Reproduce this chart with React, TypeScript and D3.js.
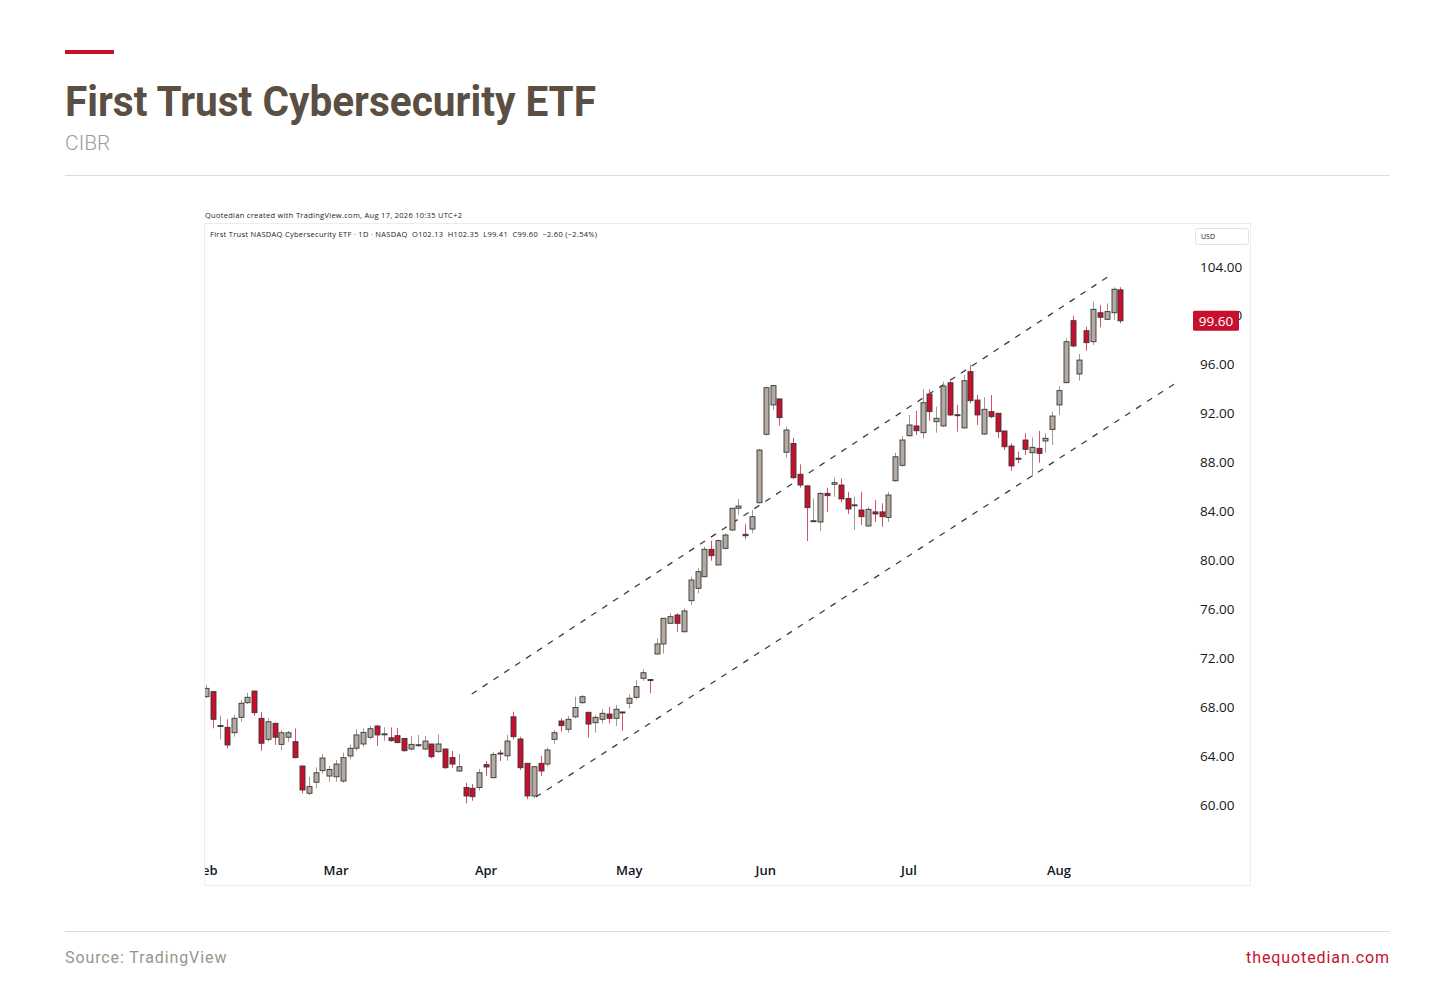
import React, { useEffect, useRef } from 'react';
import * as d3 from 'd3';

// ---- data (CIBR daily, Feb 2 – Aug 14 2026) ----
const firstDay = '2026-02-02';
const lastDay = '2026-08-14';
const marketHolidays = ['2026-02-16', '2026-04-03', '2026-05-25', '2026-06-19', '2026-07-03'];

const opens = [
  68.86, 69.27, 66.42, 66.35, 65.91, 67.17, 68.37, 69.32, 67.09, 65.37, 66.68, 64.96, 65.54, 65.18, 63.19, 60.96, 61.86, 62.81, 62.37, 62.31,
  61.96, 64.01, 64.64, 64.99, 65.54, 66.46, 65.76, 65.5, 65.67, 65.44, 64.58, 64.88, 64.58, 64.99, 64.36, 64.58, 63.88, 62.78, 61.43, 61.37,
  61.43, 63.3, 62.23, 64.25, 64.02, 67.21, 65.4, 63.41, 60.74, 63.41, 63.35, 65.37, 66.87, 66.19, 67.21, 68.37, 67.58, 66.73, 67.01, 67.44,
  67.09, 67.61, 68.32, 68.81, 70.36, 70.26, 72.35, 73.17, 74.86, 75.54, 74.17, 76.71, 77.72, 78.67, 80.91, 79.63, 80.99, 82.49, 84.27, 82.14,
  82.57, 84.72, 90.32, 92.72, 93.21, 88.85, 89.57, 87.05, 86.1, 83.19, 83.15, 85.49, 86.23, 86.17, 85.07, 84.5, 84.13, 82.82, 83.97, 83.97,
  83.52, 86.52, 87.78, 90.2, 91.0, 90.45, 93.61, 91.35, 91.0, 94.53, 91.92, 90.84, 95.44, 93.12, 90.34, 92.17, 92.04, 90.59, 89.36, 88.36,
  89.85, 88.81, 89.17, 89.77, 90.72, 92.72, 94.54, 99.61, 95.25, 98.79, 97.89, 100.26, 99.72, 100.26, 102.13,
];
const highs = [
  69.81, 69.3, 67.28, 67.01, 67.36, 68.59, 69.18, 69.35, 67.63, 67.09, 66.73, 66.13, 66.06, 66.27, 63.22, 62.31, 63.08, 64.17, 63.19, 63.68,
  64.28, 64.91, 66.19, 66.27, 66.46, 66.54, 66.35, 66.35, 66.3, 65.46, 65.64, 65.73, 65.64, 65.0, 65.77, 64.6, 64.42, 64.17, 61.81, 61.72,
  62.94, 63.6, 64.36, 64.5, 65.73, 67.63, 65.59, 63.43, 63.19, 64.01, 64.7, 66.13, 67.09, 67.28, 68.86, 69.0, 67.63, 67.36, 67.83, 68.04,
  68.18, 67.62, 69.05, 70.22, 71.1, 70.27, 73.63, 75.3, 75.68, 75.68, 76.09, 78.67, 79.36, 81.13, 81.62, 81.73, 82.22, 84.3, 85.03, 82.96,
  84.13, 89.12, 94.21, 94.35, 93.24, 90.94, 90.04, 87.86, 86.13, 85.07, 85.62, 85.95, 86.77, 86.71, 85.61, 85.21, 85.61, 84.39, 84.94, 84.67,
  85.61, 88.81, 90.18, 91.9, 92.23, 94.0, 94.0, 92.58, 94.62, 94.7, 92.72, 95.17, 95.99, 93.53, 93.34, 93.53, 92.05, 90.6, 89.58, 88.9,
  90.4, 90.06, 90.6, 90.4, 92.17, 94.27, 98.17, 99.99, 96.89, 99.12, 101.16, 100.89, 101.03, 102.34, 102.35,
];
const lows = [
  68.75, 66.27, 65.37, 64.64, 65.59, 66.81, 68.26, 67.28, 64.44, 65.18, 64.91, 64.5, 65.18, 63.82, 60.96, 60.82, 61.37, 62.58, 61.91, 61.91,
  61.82, 63.74, 64.44, 64.75, 65.37, 64.83, 65.24, 65.18, 65.05, 64.36, 64.44, 64.75, 64.5, 63.82, 64.28, 62.97, 63.05, 62.72, 60.14, 60.35,
  61.17, 62.37, 62.18, 63.6, 63.62, 65.37, 62.86, 60.47, 60.55, 62.37, 63.13, 64.99, 66.0, 65.91, 67.09, 68.26, 65.52, 65.91, 66.67, 66.67,
  66.46, 66.08, 67.91, 68.64, 70.17, 69.14, 72.3, 72.39, 74.81, 74.17, 74.12, 76.36, 77.31, 78.62, 79.98, 79.6, 80.91, 82.41, 83.72, 81.76,
  82.22, 84.66, 90.2, 92.31, 91.02, 88.41, 86.66, 85.95, 81.59, 83.15, 82.41, 83.97, 85.21, 84.74, 83.8, 82.49, 82.9, 82.76, 83.15, 82.76,
  83.15, 86.43, 87.67, 90.11, 90.26, 89.99, 91.43, 90.45, 90.94, 91.81, 90.53, 90.79, 92.85, 91.08, 90.26, 91.63, 89.99, 89.03, 87.34, 87.95,
  88.62, 86.85, 87.99, 88.81, 89.44, 91.9, 94.49, 97.43, 94.7, 97.15, 97.62, 99.07, 99.67, 99.67, 99.41,
];
const closes = [
  69.54, 67.01, 66.5, 64.91, 67.09, 68.32, 68.81, 67.55, 65.05, 66.81, 65.54, 65.91, 65.91, 63.87, 61.23, 61.5, 62.64, 63.84, 62.91, 63.35,
  63.87, 64.64, 65.73, 65.94, 66.24, 65.73, 65.82, 65.26, 65.1, 64.44, 64.96, 64.93, 65.23, 63.95, 64.99, 63.05, 63.35, 63.13, 60.74, 60.68,
  62.64, 63.11, 64.14, 64.17, 65.23, 65.59, 63.05, 60.74, 63.13, 62.78, 64.5, 65.91, 66.49, 67.01, 67.97, 68.86, 66.62, 67.17, 67.5, 67.09,
  67.83, 67.55, 68.73, 69.68, 70.82, 70.18, 73.17, 75.27, 75.4, 74.86, 75.87, 78.4, 79.08, 80.91, 80.39, 81.62, 82.08, 84.27, 84.45, 82.02,
  83.58, 89.03, 94.13, 94.3, 91.68, 90.67, 86.77, 86.17, 84.32, 83.25, 85.48, 85.3, 86.36, 85.03, 84.21, 84.55, 83.58, 84.18, 83.8, 83.58,
  85.35, 88.48, 89.85, 91.08, 90.61, 92.9, 92.17, 91.63, 94.27, 91.9, 91.88, 94.7, 93.07, 91.9, 92.36, 91.76, 90.53, 89.3, 87.73, 88.28,
  89.09, 89.25, 88.76, 89.99, 91.81, 93.89, 97.89, 97.54, 96.39, 97.81, 100.54, 99.89, 100.35, 102.18, 99.6,
];

// trend channel drawn by hand on the chart: [bar index, price]
const upperChannel: [number, number][] = [[38.9, 69.08], [132.8, 103.43]];
const lowerChannel: [number, number][] = [[48.3, 60.65], [142.0, 94.47]];

const priceTicks = [60, 64, 68, 72, 76, 80, 84, 88, 92, 96, 100, 104];
const lastPrice = 99.6;

const App: React.FC = () => {
  const svgRef = useRef<SVGSVGElement>(null);

  useEffect(() => {
    document.body.style.margin = '0';
    const svgEl = svgRef.current;
    if (!svgEl) return;
    const svg = d3.select(svgEl);
    svg.selectAll('*').remove();

    /* ---------- trading calendar ---------- */
    const fmt = d3.utcFormat('%Y-%m-%d');
    const dates = d3
      .utcDays(new Date(firstDay + 'T00:00Z'), d3.utcDay.offset(new Date(lastDay + 'T00:00Z'), 1))
      .filter(d => d.getUTCDay() !== 0 && d.getUTCDay() !== 6 && !marketHolidays.includes(fmt(d)));

    const bars = dates.map((d, i) => ({ date: d, i, o: opens[i], h: highs[i], l: lows[i], c: closes[i] }));

    /* ---------- layout ---------- */
    const frame = { x: 204.5, y: 223.5, w: 1046, h: 662 };
    const pane = { left: 205, right: 1190, top: 225, bottom: 885 };
    const upCol = '#b3aba3';
    const downCol = '#c8102e';
    const upWick = '#a29a92';
    const downWick = '#d8506c';
    const edge = '#3a3734';
    const tvFont = '"Open Sans", "Liberation Sans", sans-serif';

    const x = d3.scaleLinear().domain([0, bars.length - 1]).range([206.4, 1120.4]);
    const y = d3.scaleLinear().domain([60, 104]).range([805, 267]);
    const bodyW = 5;

    /* ---------- page header ---------- */
    svg.append('rect').attr('x', 65).attr('y', 50).attr('width', 49).attr('height', 4).attr('fill', '#c8102e');
    svg.append('text')
      .attr('x', 65).attr('y', 116)
      .attr('fill', '#5b4f43')
      .style('font-family', 'Roboto, sans-serif')
      .style('font-weight', 700)
      .style('font-size', '42px')
      .attr('textLength', 531)
      .attr('lengthAdjust', 'spacingAndGlyphs')
      .text('First Trust Cybersecurity ETF');
    svg.append('text')
      .attr('x', 65).attr('y', 150)
      .attr('fill', '#a39b93')
      .style('font-family', 'Roboto, sans-serif')
      .style('font-weight', 300)
      .style('font-size', '21px')
      .text('CIBR');
    svg.append('line').attr('x1', 65).attr('x2', 1390).attr('y1', 175.5).attr('y2', 175.5).attr('stroke', '#dcdcdc');

    /* ---------- tradingview screenshot ---------- */
    svg.append('text')
      .attr('x', 205).attr('y', 218)
      .attr('fill', '#222')
      .style('font-family', tvFont)
      .style('font-size', '7.5px')
      .attr('textLength', 257)
      .text('Quotedian created with TradingView.com, Aug 17, 2026 10:35 UTC+2');

    svg.append('rect')
      .attr('x', frame.x).attr('y', frame.y).attr('width', frame.w).attr('height', frame.h)
      .attr('fill', '#fff').attr('stroke', '#ededed');

    svg.append('text')
      .attr('x', 210).attr('y', 237)
      .attr('fill', '#222')
      .style('font-family', tvFont)
      .style('font-size', '7.5px')
      .attr('textLength', 387)
      .attr('xml:space', 'preserve')
      .text('First Trust NASDAQ Cybersecurity ETF · 1D · NASDAQ  O102.13  H102.35  L99.41  C99.60  −2.60 (−2.54%)');

    // USD box
    svg.append('rect')
      .attr('x', 1195.5).attr('y', 228.5).attr('width', 53).attr('height', 16).attr('rx', 2)
      .attr('fill', '#fff').attr('stroke', '#e3e3e3');
    svg.append('text')
      .attr('x', 1201).attr('y', 239)
      .attr('fill', '#222')
      .style('font-family', tvFont)
      .style('font-size', '7px')
      .text('USD');

    const defs = svg.append('defs');
    defs.append('clipPath').attr('id', 'pane-clip')
      .append('rect')
      .attr('x', pane.left).attr('y', pane.top)
      .attr('width', pane.right - pane.left).attr('height', pane.bottom - pane.top);

    const plot = svg.append('g').attr('clip-path', 'url(#pane-clip)');

    /* ---------- channel lines ---------- */
    const line = d3.line<[number, number]>().x(d => x(d[0])).y(d => y(d[1]));
    [upperChannel, lowerChannel].forEach(ch => {
      plot.append('path')
        .attr('d', line(ch))
        .attr('fill', 'none')
        .attr('stroke', '#3d3d3d')
        .attr('stroke-width', 1.3)
        .attr('stroke-dasharray', '6 7');
    });

    /* ---------- candles ---------- */
    const cx = (i: number) => Math.round(x(i)) + 0.5;
    plot.selectAll('line.wick')
      .data(bars)
      .enter()
      .append('line')
      .attr('class', 'wick')
      .attr('x1', d => cx(d.i)).attr('x2', d => cx(d.i))
      .attr('y1', d => y(d.h)).attr('y2', d => y(d.l))
      .attr('stroke', d => (d.c >= d.o ? upWick : downWick))
      .attr('stroke-width', 1);

    plot.selectAll('rect.body')
      .data(bars)
      .enter()
      .append('rect')
      .attr('class', 'body')
      .attr('x', d => cx(d.i) - bodyW / 2)
      .attr('y', d => y(Math.max(d.o, d.c)))
      .attr('width', bodyW)
      .attr('height', d => Math.max(1, Math.abs(y(d.o) - y(d.c))))
      .attr('fill', d => (d.c >= d.o ? upCol : downCol))
      .attr('stroke', edge)
      .attr('stroke-width', 0.9);

    /* ---------- time axis ---------- */
    const monthStarts = bars.filter((d, i) => i === 0 || d.date.getUTCMonth() !== bars[i - 1].date.getUTCMonth());
    plot.selectAll('text.month')
      .data(monthStarts)
      .enter()
      .append('text')
      .attr('class', 'month')
      .attr('x', d => x(d.i))
      .attr('y', 875)
      .attr('text-anchor', 'middle')
      .attr('fill', '#131722')
      .style('font-family', tvFont)
      .style('font-weight', 600)
      .style('font-size', '13px')
      .text(d => d3.utcFormat('%b')(d.date));

    /* ---------- price axis ---------- */
    // the last-price tag sits over the 100.00 label, as on TradingView
    svg.selectAll('text.price')
      .data(priceTicks)
      .enter()
      .append('text')
      .attr('class', 'price')
      .attr('x', 1200)
      .attr('y', d => y(d) + 4.5)
      .attr('fill', '#131722')
      .style('font-family', tvFont)
      .style('font-size', '13.5px')
      .text(d => d.toFixed(2));

    svg.append('rect')
      .attr('x', 1193).attr('y', y(lastPrice) - 10).attr('width', 46).attr('height', 20).attr('rx', 1.5)
      .attr('fill', downCol);
    svg.append('text')
      .attr('x', 1216).attr('y', y(lastPrice) + 5)
      .attr('text-anchor', 'middle')
      .attr('fill', '#fff')
      .style('font-family', tvFont)
      .style('font-size', '13.5px')
      .text(lastPrice.toFixed(2));

    /* ---------- footer ---------- */
    svg.append('line').attr('x1', 65).attr('x2', 1390).attr('y1', 931.5).attr('y2', 931.5).attr('stroke', '#dcdcdc');
    svg.append('text')
      .attr('x', 65).attr('y', 963)
      .attr('fill', '#9c938b')
      .style('font-family', 'Roboto, sans-serif')
      .style('font-size', '16px')
      .style('letter-spacing', '0.9px')
      .text('Source: TradingView');
    svg.append('text')
      .attr('x', 1390).attr('y', 963)
      .attr('text-anchor', 'end')
      .attr('fill', '#c8102e')
      .style('font-family', 'Roboto, sans-serif')
      .style('font-size', '16px')
      .style('letter-spacing', '0.9px')
      .text('thequotedian.com');
  }, []);

  return <svg ref={svgRef} width={1456} height={990} style={{ display: 'block', background: '#fff' }} />;
};

export default App;
